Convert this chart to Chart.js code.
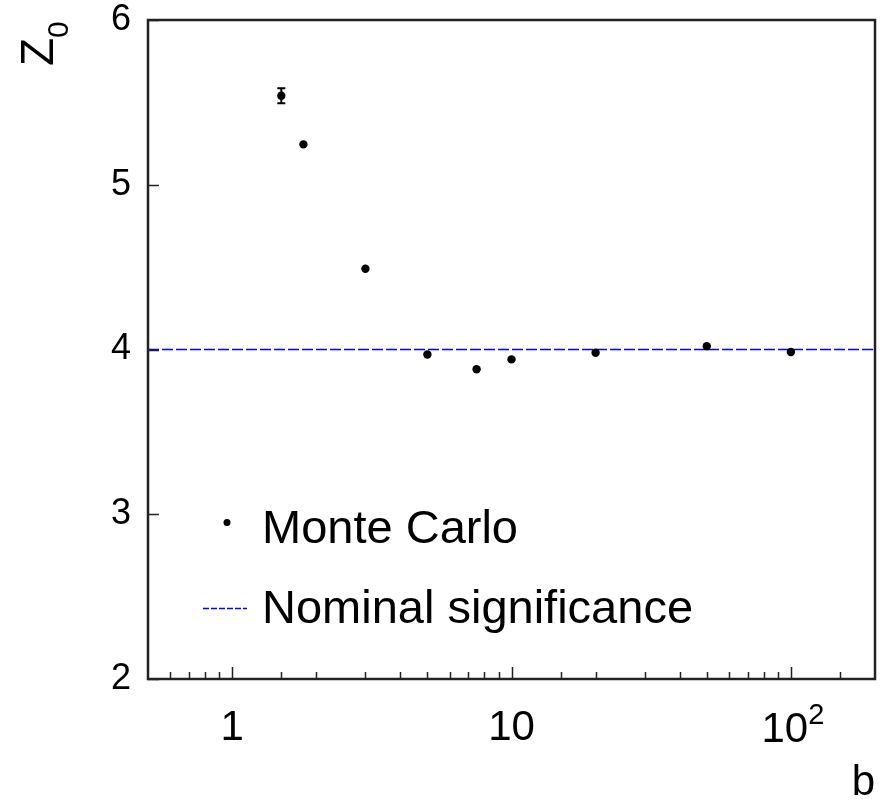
<!DOCTYPE html>
<html>
<head>
<meta charset="utf-8">
<script src="https://cdn.jsdelivr.net/npm/chart.js@4.4.1/dist/chart.umd.min.js"></script>
<style>
  html, body { margin: 0; padding: 0; background: #fff; }
  #wrap { width: 885px; height: 800px; position: relative; }
</style>
</head>
<body>
<div id="wrap"><canvas id="sigChart"></canvas></div>
<script>
// data
const bValues = [1.5, 1.8, 3, 5, 7.5, 10, 20, 50, 100];
const zValues = [5.54, 5.245, 4.49, 3.97, 3.88, 3.94, 3.98, 4.02, 3.985];
const zErrors = [0.045, 0, 0, 0, 0, 0, 0, 0, 0];
const nominalZ = 4;
const bRange = [0.5, 200];
const zRange = [2, 6];
const yTickValues = [2, 3, 4, 5, 6];
const xTickLabels = { 1: '1', 10: '10' };
const xPowerLabels = { 100: ['10', '2'] };   // drawn as base + superscript
const legendLabels = ['Monte Carlo', 'Nominal significance'];

const FONT = '"Liberation Sans", Arial, Helvetica, sans-serif';

// ROOT-like frame, inward ticks, error bars, legend and axis titles
const rootStyle = {
    id: 'rootStyle',
    afterDatasetsDraw(chart) {
        const ctx = chart.ctx;
        const ys = chart.scales.y;

        // error bars
        const meta = chart.getDatasetMeta(0);
        ctx.save();
        ctx.strokeStyle = '#000';
        ctx.lineWidth = 2;
        meta.data.forEach((pt, i) => {
            const e = zErrors[i];
            if (!e) return;
            const y1 = ys.getPixelForValue(zValues[i] + e);
            const y2 = ys.getPixelForValue(zValues[i] - e);
            ctx.beginPath();
            ctx.moveTo(pt.x, y1); ctx.lineTo(pt.x, y2);
            ctx.moveTo(pt.x - 4, y1); ctx.lineTo(pt.x + 4, y1);
            ctx.moveTo(pt.x - 4, y2); ctx.lineTo(pt.x + 4, y2);
            ctx.stroke();
        });
        ctx.restore();
    },
    afterDraw(chart) {
        const ctx = chart.ctx;
        const ca = chart.chartArea;
        const xs = chart.scales.x, ys = chart.scales.y;
        ctx.save();

        // frame
        ctx.strokeStyle = '#222';
        ctx.lineWidth = 2.5;
        ctx.strokeRect(ca.left, ca.top, ca.right - ca.left, ca.bottom - ca.top);

        // inward ticks
        ctx.lineWidth = 1.5;
        ctx.beginPath();
        yTickValues.forEach(v => {
            const y = Math.round(ys.getPixelForValue(v)) + 0.5;
            ctx.moveTo(ca.left, y); ctx.lineTo(ca.left + 11, y);
        });
        xs.ticks.forEach(t => {
            const x = Math.round(xs.getPixelForValue(t.value)) + 0.5;
            if (x <= ca.left + 2 || x >= ca.right - 2) return;
            const major = xTickLabels[t.value] || xPowerLabels[t.value];
            ctx.moveTo(x, ca.bottom); ctx.lineTo(x, ca.bottom - (major ? 12 : 7));
        });
        ctx.stroke();

        // power-of-ten tick labels (10^2)
        ctx.fillStyle = '#000';
        ctx.textBaseline = 'alphabetic';
        Object.keys(xPowerLabels).forEach(k => {
            const [base, exp] = xPowerLabels[k];
            const x = xs.getPixelForValue(Number(k));
            ctx.font = '42px ' + FONT;
            const bw = ctx.measureText(base).width;
            ctx.font = '29px ' + FONT;
            const ew = ctx.measureText(exp).width;
            const x0 = x - (bw + ew) / 2 + 2;
            ctx.font = '42px ' + FONT;
            ctx.textAlign = 'left';
            ctx.fillText(base, x0, 742);
            ctx.font = '29px ' + FONT;
            ctx.fillText(exp, x0 + bw, 724);
        });

        // legend
        const mc = chart.data.datasets[0];
        const nom = chart.data.datasets[1];
        ctx.fillStyle = mc.backgroundColor;
        ctx.beginPath();
        ctx.arc(227, 522.5, 3.5, 0, Math.PI * 2);
        ctx.fill();
        ctx.strokeStyle = nom.borderColor;
        ctx.lineWidth = nom.borderWidth;
        ctx.setLineDash([6, 2]);
        ctx.beginPath();
        ctx.moveTo(203, 608.5); ctx.lineTo(247, 608.5);
        ctx.stroke();
        ctx.setLineDash([]);
        ctx.fillStyle = '#000';
        ctx.font = '47px ' + FONT;
        ctx.textAlign = 'left';
        ctx.fillText(legendLabels[0], 262, 543);
        ctx.fillText(legendLabels[1], 262, 623);

        // x title
        ctx.font = '42px ' + FONT;
        ctx.textAlign = 'right';
        ctx.fillText('b', 875, 795);

        // y title Z_0, rotated
        ctx.translate(53, 66);
        ctx.rotate(-Math.PI / 2);
        ctx.textAlign = 'left';
        ctx.font = '46px ' + FONT;
        ctx.fillText('Z', 0, 0);
        const zw = ctx.measureText('Z').width;
        ctx.font = '30px ' + FONT;
        ctx.fillText('0', zw, 15);
        ctx.restore();
    }
};

const chart = new Chart(document.getElementById('sigChart'), {
    type: 'scatter',
    data: {
        datasets: [{
            label: legendLabels[0],
            data: bValues.map((b, i) => ({ x: b, y: zValues[i] })),
            backgroundColor: '#000',
            borderColor: '#000',
            pointRadius: 4.2,
            pointHoverRadius: 4.2,
            pointBorderWidth: 0
        }, {
            label: legendLabels[1],
            data: bRange.map(b => ({ x: b, y: nominalZ })),
            showLine: true,
            borderColor: '#0000ff',
            borderWidth: 1.6,
            borderDash: [11, 3],
            pointRadius: 0,
            pointHoverRadius: 0
        }]
    },
    options: {
        responsive: true,
        maintainAspectRatio: false,
        devicePixelRatio: 1,
        animation: false,
        layout: { padding: { top: 20, right: 10, left: 0, bottom: 0 }, autoPadding: false },
        plugins: {
            legend: { display: false },
            tooltip: { enabled: false }
        },
        scales: {
            x: {
                type: 'logarithmic',
                min: bRange[0],
                max: bRange[1],
                afterFit(scale) {
                    scale.height = 121;
                    scale.paddingLeft = 0; scale.paddingRight = 0;
                },
                grid: { drawOnChartArea: false, drawTicks: false },
                border: { display: false },
                ticks: {
                    autoSkip: false,
                    maxRotation: 0,
                    padding: 24,
                    color: '#000',
                    font: { family: FONT, size: 42 },
                    callback: v => xTickLabels[v] || ''
                }
            },
            y: {
                min: zRange[0],
                max: zRange[1],
                afterFit(scale) {
                    scale.width = 148;
                    scale.paddingTop = 0; scale.paddingBottom = 0;
                },
                grid: { drawOnChartArea: false, drawTicks: false },
                border: { display: false },
                ticks: {
                    stepSize: 1,
                    padding: 17,
                    color: '#000',
                    font: { family: FONT, size: 36 }
                }
            }
        }
    },
    plugins: [rootStyle]
});
</script>
</body>
</html>
